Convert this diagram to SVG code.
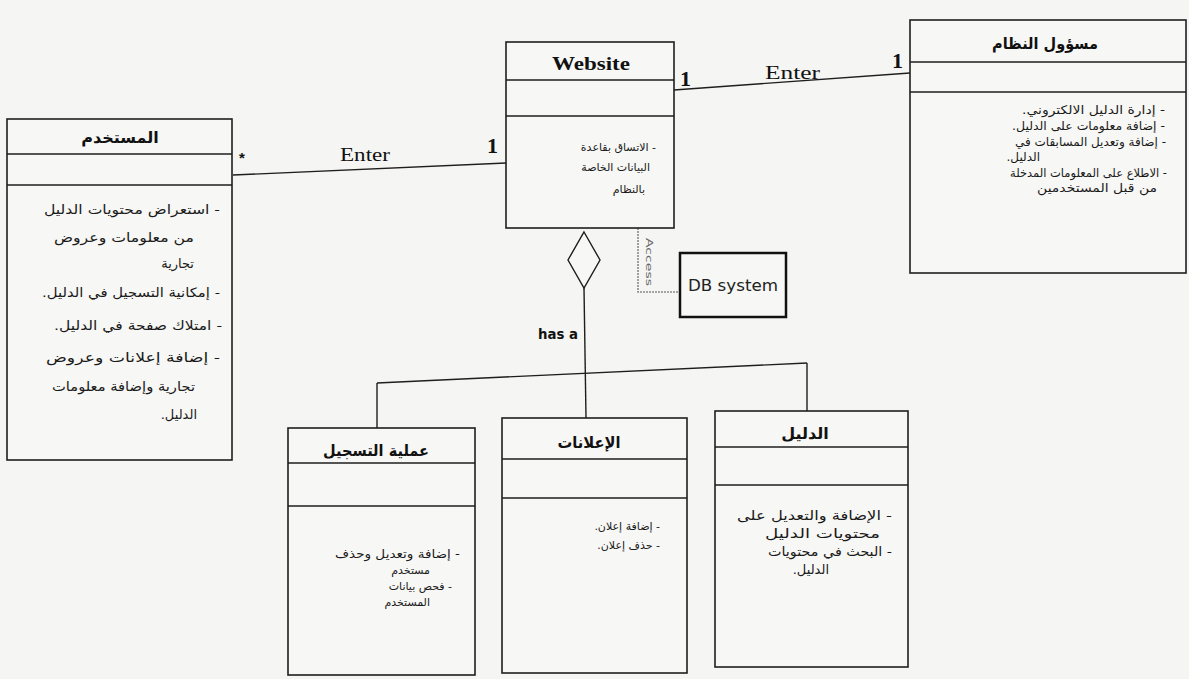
<svg xmlns="http://www.w3.org/2000/svg" width="1189" height="679" viewBox="0 0 1189 679">
<style>
.bg{fill:#f5f5f3}
.box{fill:#f7f7f5;stroke:#1e1e1e;stroke-width:1.6}
.sep{stroke:#1e1e1e;stroke-width:1.6;fill:none}
.conn{stroke:#1e1e1e;stroke-width:1.4;fill:none}
.dep{stroke:#8a8a8a;stroke-width:1.6;stroke-dasharray:2 1;fill:none}
.ar{font-family:"DejaVu Sans",sans-serif;fill:#1a1a1a;direction:rtl;text-anchor:start}
.tt{font-family:"DejaVu Sans",sans-serif;font-weight:bold;fill:#111;direction:rtl;text-anchor:middle;font-size:16px}
.lat{font-family:"Liberation Serif",serif;fill:#111}
.mult{font-family:"Liberation Serif",serif;font-weight:bold;font-size:22px;fill:#111}
</style>
<rect class="bg" x="0" y="0" width="1189" height="679"/>

<g id="connectors">
  <line class="conn" x1="233" y1="175" x2="506" y2="163"/>
  <line class="conn" x1="674" y1="90" x2="910" y2="73"/>
  <polygon class="conn" points="584,232 600,260 584,288 568,260" style="fill:#f7f7f5"/>
  <line class="conn" x1="584" y1="288" x2="586" y2="418"/>
  <line class="conn" x1="377" y1="383" x2="807" y2="363"/>
  <line class="conn" x1="377" y1="383" x2="377" y2="428"/>
  <line class="conn" x1="807" y1="363" x2="807" y2="411"/>
  <path class="dep" d="M638,228 V292 H680"/>
  <text class="lat" x="340" y="161" font-size="18" textLength="50" lengthAdjust="spacingAndGlyphs">Enter</text>
  <text class="lat" x="765" y="79" font-size="18" textLength="55" lengthAdjust="spacingAndGlyphs">Enter</text>
  <text class="mult" x="487" y="153">1</text>
  <text class="mult" x="680" y="86">1</text>
  <text class="mult" x="892" y="68">1</text>
  <text x="239" y="163" font-family="Liberation Sans,sans-serif" font-weight="bold" font-size="15" fill="#111">*</text>
  <text x="538" y="339" font-family="DejaVu Sans,sans-serif" font-weight="bold" font-size="14" fill="#111" textLength="40" lengthAdjust="spacingAndGlyphs">has a</text>
  <text transform="translate(646,238) rotate(90)" font-family="DejaVu Sans,sans-serif" font-size="9" fill="#666" textLength="48" lengthAdjust="spacingAndGlyphs">Access</text>
</g>

<g id="user">
  <rect class="box" x="7" y="119" width="225" height="341"/>
  <line class="sep" x1="7" y1="154" x2="232" y2="154"/>
  <line class="sep" x1="7" y1="185" x2="232" y2="185"/>
  <text class="tt" x="120" y="143">المستخدم</text>
  <g class="ar" font-size="13">
    <text x="220" y="214" textLength="176" lengthAdjust="spacingAndGlyphs">- استعراض محتويات الدليل</text>
    <text x="194" y="242" textLength="140" lengthAdjust="spacingAndGlyphs">من معلومات وعروض</text>
    <text x="194" y="268">تجارية</text>
    <text x="220" y="297" textLength="178" lengthAdjust="spacingAndGlyphs">- إمكانية التسجيل في الدليل.</text>
    <text x="222" y="330" textLength="168" lengthAdjust="spacingAndGlyphs">- امتلاك صفحة في الدليل.</text>
    <text x="220" y="362" textLength="174" lengthAdjust="spacingAndGlyphs">- إضافة إعلانات وعروض</text>
    <text x="195" y="391" textLength="143" lengthAdjust="spacingAndGlyphs">تجارية وإضافة معلومات</text>
    <text x="197" y="419">الدليل.</text>
  </g>
</g>

<g id="website">
  <rect class="box" x="506" y="42" width="168" height="186"/>
  <line class="sep" x1="506" y1="80" x2="674" y2="80"/>
  <line class="sep" x1="506" y1="116" x2="674" y2="116"/>
  <text class="lat" x="552" y="70" font-size="19" font-weight="bold" textLength="78" lengthAdjust="spacingAndGlyphs">Website</text>
  <g class="ar" font-size="11">
    <text x="656" y="151">- الاتساق بقاعدة</text>
    <text x="650" y="171">البيانات الخاصة</text>
    <text x="645" y="193">بالنظام</text>
  </g>
</g>

<g id="admin">
  <rect class="box" x="910" y="20" width="276" height="253"/>
  <line class="sep" x1="910" y1="62" x2="1186" y2="62"/>
  <line class="sep" x1="910" y1="92" x2="1186" y2="92"/>
  <text class="tt" x="1045" y="49" textLength="106" lengthAdjust="spacingAndGlyphs">مسؤول النظام</text>
  <g class="ar" font-size="12">
    <text x="1165" y="114" textLength="143" lengthAdjust="spacingAndGlyphs">- إدارة الدليل الالكتروني.</text>
    <text x="1165" y="130" textLength="153" lengthAdjust="spacingAndGlyphs">- إضافة معلومات على الدليل.</text>
    <text x="1166" y="146" textLength="151" lengthAdjust="spacingAndGlyphs">- إضافة وتعديل المسابقات في</text>
    <text x="1040" y="161">الدليل.</text>
    <text x="1167" y="177" textLength="157" lengthAdjust="spacingAndGlyphs">- الاطلاع على المعلومات المدخلة</text>
    <text x="1157" y="192" textLength="120" lengthAdjust="spacingAndGlyphs">من قبل المستخدمين</text>
  </g>
</g>

<g id="db-system">
  <rect x="680" y="253" width="106" height="64" fill="#f7f7f5" stroke="#111" stroke-width="2.5"/>
  <text x="688" y="291" font-family="DejaVu Sans,sans-serif" font-size="16" fill="#222" textLength="90" lengthAdjust="spacingAndGlyphs">DB system</text>
</g>

<g id="registration">
  <rect class="box" x="288" y="428" width="187" height="247"/>
  <line class="sep" x1="288" y1="463" x2="475" y2="463"/>
  <line class="sep" x1="288" y1="506" x2="475" y2="506"/>
  <text class="tt" x="376" y="456" textLength="106" lengthAdjust="spacingAndGlyphs">عملية التسجيل</text>
  <g class="ar" font-size="12">
    <text x="460" y="558" textLength="125" lengthAdjust="spacingAndGlyphs">- إضافة وتعديل وحذف</text>
    <text x="430" y="574" font-size="11">مستخدم</text>
    <text x="452" y="590" font-size="11">- فحص بيانات</text>
    <text x="430" y="606" font-size="11">المستخدم</text>
  </g>
</g>

<g id="ads">
  <rect class="box" x="502" y="418" width="185" height="255"/>
  <line class="sep" x1="502" y1="459" x2="687" y2="459"/>
  <line class="sep" x1="502" y1="498" x2="687" y2="498"/>
  <text class="tt" x="589" y="448" textLength="63" lengthAdjust="spacingAndGlyphs">الإعلانات</text>
  <g class="ar" font-size="11">
    <text x="660" y="530">- إضافة إعلان.</text>
    <text x="660" y="549">- حذف إعلان.</text>
  </g>
</g>

<g id="guide">
  <rect class="box" x="715" y="411" width="193" height="256"/>
  <line class="sep" x1="715" y1="447" x2="908" y2="447"/>
  <line class="sep" x1="715" y1="485" x2="908" y2="485"/>
  <text class="tt" x="805" y="439">الدليل</text>
  <g class="ar" font-size="13">
    <text x="892" y="520" textLength="155" lengthAdjust="spacingAndGlyphs">- الإضافة والتعديل على</text>
    <text x="880" y="538" textLength="115" lengthAdjust="spacingAndGlyphs">محتويات الدليل</text>
    <text x="892" y="556" textLength="124" lengthAdjust="spacingAndGlyphs">- البحث في محتويات</text>
    <text x="829" y="574">الدليل.</text>
  </g>
</g>
</svg>
